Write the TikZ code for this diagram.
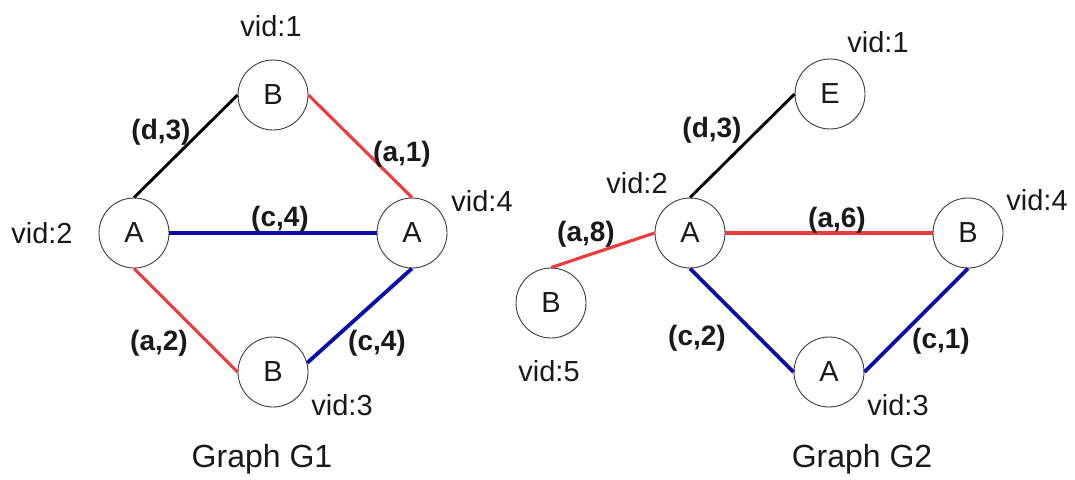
\documentclass[tikz,border=0pt]{standalone}
\usepackage{fontspec}
\setmainfont{Liberation Sans}
\begin{document}
\definecolor{edgered}{RGB}{238,60,60}
\definecolor{edgeblue}{RGB}{12,12,172}
\definecolor{ink}{RGB}{25,25,25}
\begin{tikzpicture}[x=1pt,y=-1pt,
  vertex/.style={circle,draw=ink!85,line width=0.9pt,minimum size=70pt,inner sep=0pt,
    font=\fontsize{29}{34}\selectfont,text=ink},
  vid/.style={inner sep=0pt,font=\fontsize{29}{34}\selectfont,text=ink},
  elabel/.style={inner sep=0pt,font=\fontsize{28}{33}\selectfont\bfseries,text=ink},
  title/.style={inner sep=0pt,anchor=base,font=\fontsize{32}{37}\selectfont,text=ink},
  blackedge/.style={draw=black,line width=2.9pt},
  rededge/.style={draw=edgered,line width=3.1pt},
  blueedge/.style={draw=edgeblue,line width=3.8pt}]
\useasboundingbox (0,0) rectangle (1075,479);

% ---------- Graph G1 ----------
\node[vertex] (g1b1) at (273,95) {B};
\node[vertex] (g1a2) at (134,233) {A};
\node[vertex] (g1a4) at (412,233) {A};
\node[vertex] (g1b3) at (273,372) {B};

\draw[blackedge] (g1a2.north) -- (g1b1.west);
\draw[rededge]   (g1b1.east) -- (g1a4.north);
\draw[blueedge]  (g1a2.east) -- (g1a4.west);
\draw[rededge]   (g1a2.south) -- (g1b3.west);
\draw[blueedge]  (g1b3.15) -- (g1a4.south);

\node[vid] (g1v1) at (271,26) {vid:1};
\node[vid] (g1v2) at (42,233) {vid:2};
\node[vid] (g1v4) at (482,201) {vid:4};
\node[vid] (g1v3) at (342,405) {vid:3};

\node[elabel] (g1l1) at (161,132) {(d,3)};
\node[elabel] (g1l2) at (402,154) {(a,1)};
\node[elabel] (g1l3) at (280,219) {(c,4)};
\node[elabel] (g1l4) at (159,343) {(a,2)};
\node[elabel] (g1l5) at (377,343) {(c,4)};

\node[title] (g1t) at (262,467) {Graph G1};

% ---------- Graph G2 ----------
\node[vertex] (g2e)  at (830,94)  {E};
\node[vertex] (g2a2) at (690,233) {A};
\node[vertex] (g2b4) at (968,233) {B};
\node[vertex] (g2b5) at (551,303) {B};
\node[vertex] (g2a3) at (829,372) {A};

\draw[blackedge] (g2a2.north) -- (g2e.west);
\draw[rededge]   (g2b5.north) -- (g2a2.west);
\draw[rededge]   (g2a2.east) -- (g2b4.west);
\draw[blueedge]  (g2a2.south) -- (g2a3.west);
\draw[blueedge]  (g2a3.east) -- (g2b4.south);

\node[vid] (g2v1) at (878,42)  {vid:1};
\node[vid] (g2v2) at (637,183) {vid:2};
\node[vid] (g2v4) at (1037,200) {vid:4};
\node[vid] (g2v5) at (549,371) {vid:5};
\node[vid] (g2v3) at (898,405) {vid:3};

\node[elabel] (g2l1) at (712,130) {(d,3)};
\node[elabel] (g2l2) at (586,234) {(a,8)};
\node[elabel] (g2l3) at (837,220) {(a,6)};
\node[elabel] (g2l4) at (697,338) {(c,2)};
\node[elabel] (g2l5) at (941,341) {(c,1)};

\node[title] (g2t) at (862,467) {Graph G2};
\end{tikzpicture}
\end{document}
